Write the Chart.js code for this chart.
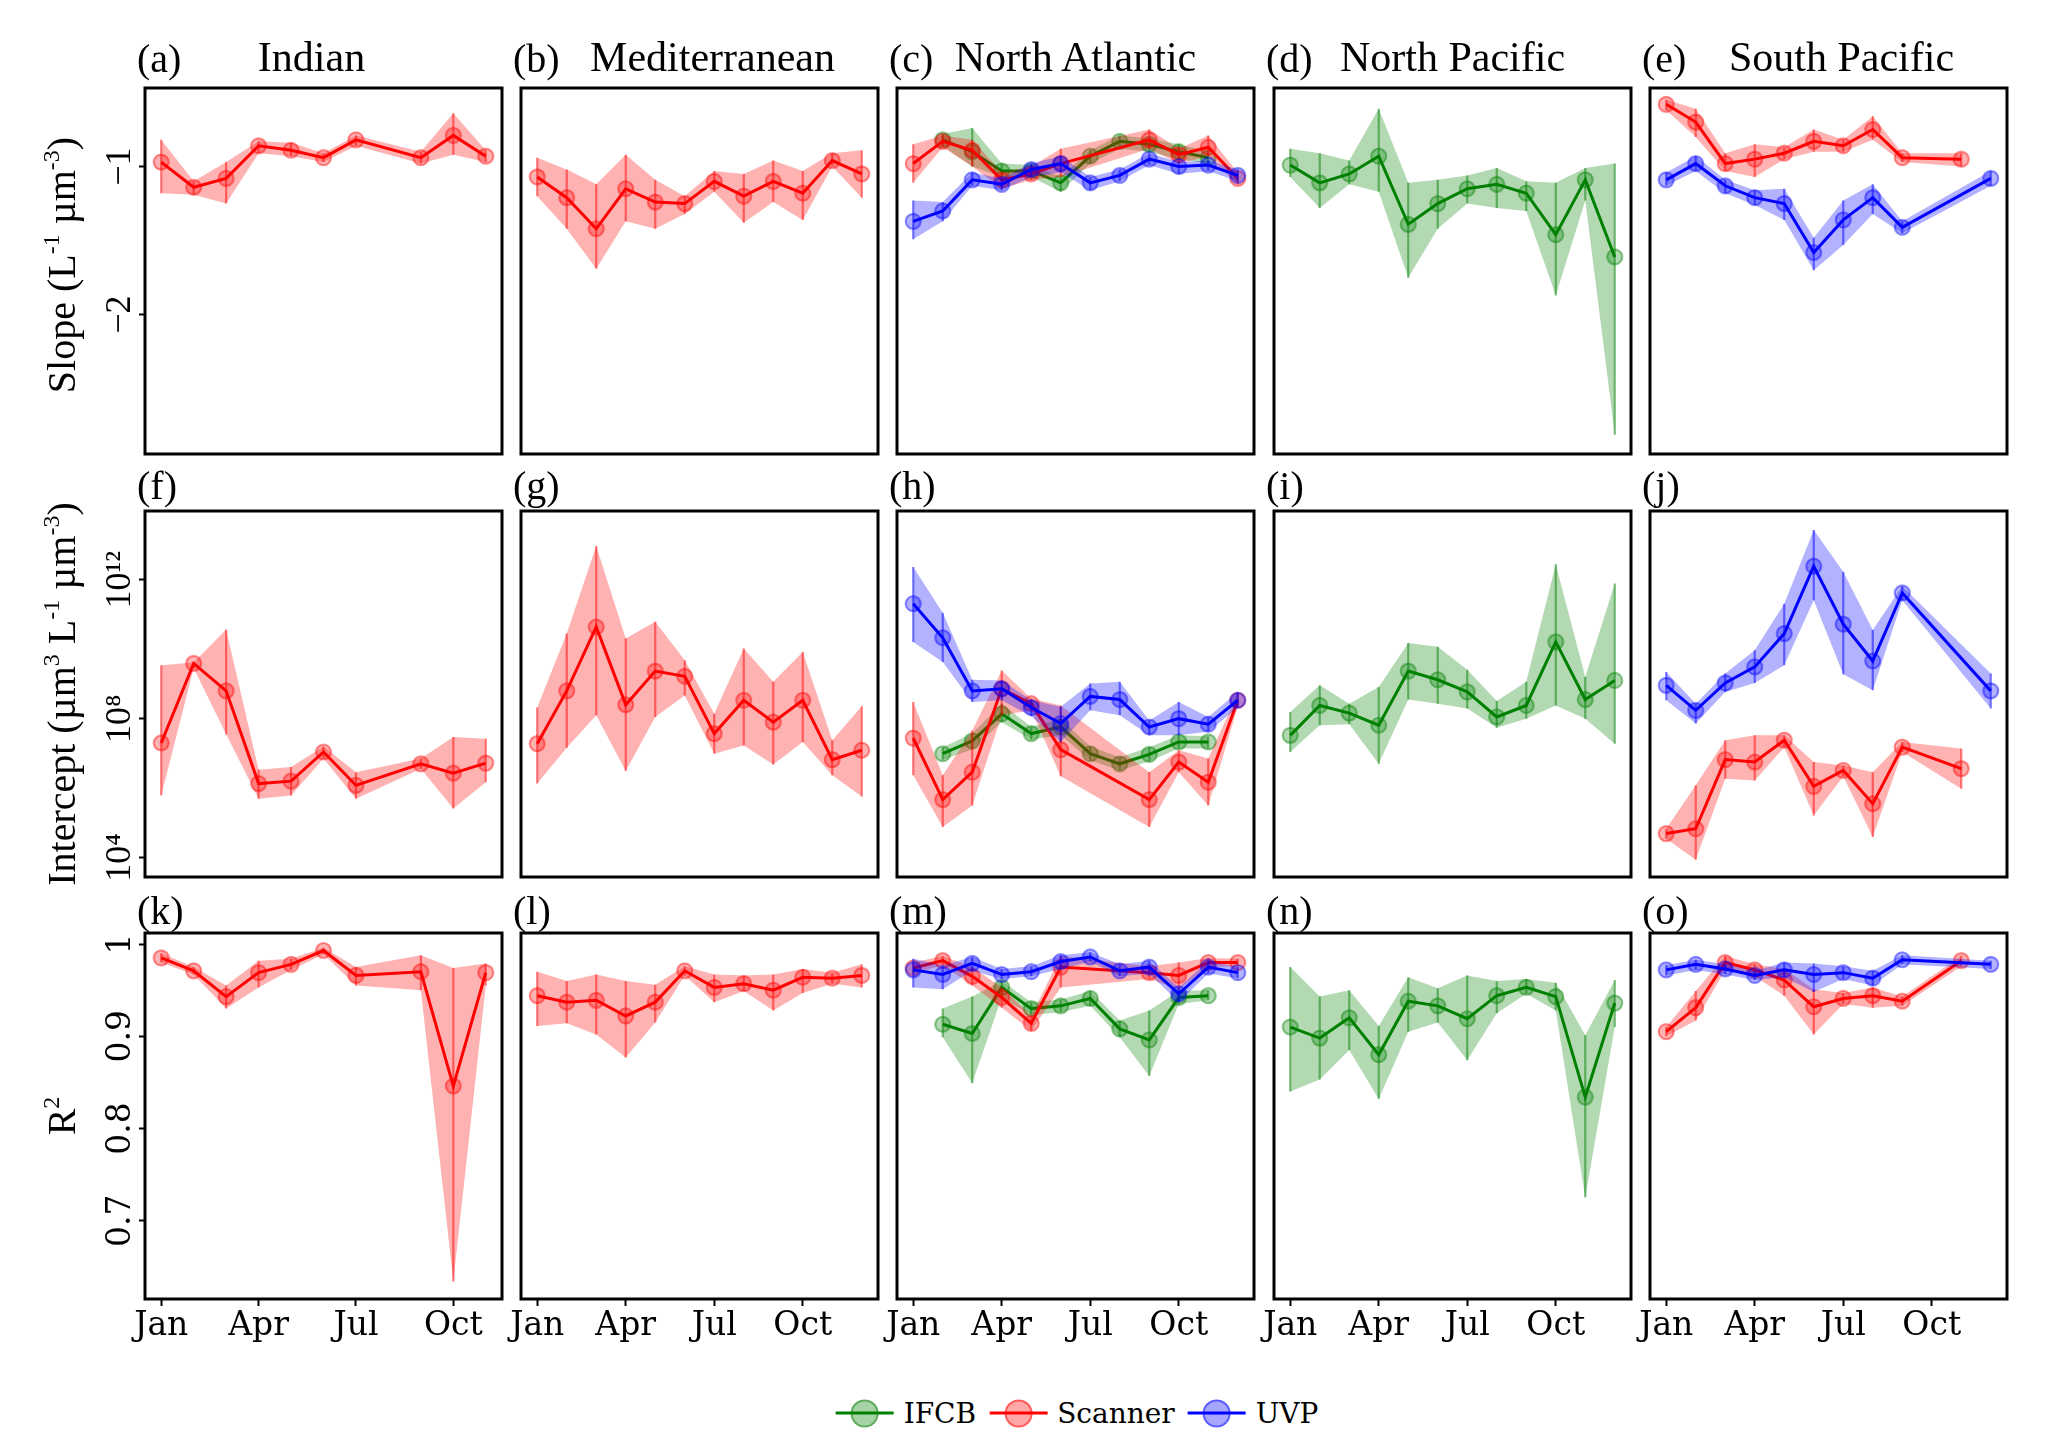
<!DOCTYPE html>
<html><head><meta charset="utf-8">
<script src="https://cdn.jsdelivr.net/npm/chart.js@4.4.1/dist/chart.umd.min.js"></script>
<style>
html,body{margin:0;padding:0;background:#fff;}
body{width:2067px;height:1445px;position:relative;overflow:hidden;}
canvas{position:absolute;}
.t{position:absolute;font-family:"Liberation Serif","Times New Roman",serif;color:#000;white-space:nowrap;line-height:1;font-size:40px;}
.t.big{font-size:42px;}
.t sup{font-size:0.6em;vertical-align:0.65em;line-height:0;}
#legend{position:absolute;left:1077px;top:1413px;transform:translate(-50%,-50%);display:flex;align-items:center;font-family:"DejaVu Serif",serif;font-size:28px;color:#000;white-space:nowrap;}
.hd{position:relative;width:58px;height:30px;}
.hd .ln{position:absolute;left:0;right:0;top:13px;height:3px;}
.hd .ci{position:absolute;left:15px;top:1px;width:24px;height:24px;border-radius:50%;}
.lt{margin-left:10px;margin-right:13px;}
.lt:last-child{margin-right:0;}
</style></head><body>
<script>
// ---------------- months (x values) ----------------
const monthsIndianScanner = [1,2,3,4,5,6,7,9,10,11];
const monthsMedScanner    = [1,2,3,4,5,6,7,8,9,10,11,12];
const monthsNAtlIFCB      = [2,3,4,5,6,7,8,9,10,11];
const monthsNAtlScanner   = [1,2,3,4,5,6,9,10,11,12];
const monthsNAtlUVP       = [1,2,3,4,5,6,7,8,9,10,11,12];
const monthsNPacIFCB      = [1,2,3,4,5,6,7,8,9,10,11,12];
const monthsSPacScanner   = [1,2,3,4,5,6,7,8,9,11];
const monthsSPacUVP       = [1,2,3,4,5,6,7,8,9,12];

// ---------------- Slope ----------------
const slopeIndianScanner    = [-0.97,-1.14,-1.08,-0.86,-0.89,-0.94,-0.82,-0.94,-0.79,-0.93];
const slopeIndianScannerHi  = [-0.82,-1.10,-0.97,-0.83,-0.84,-0.91,-0.79,-0.90,-0.64,-0.89];
const slopeIndianScannerLo  = [-1.18,-1.19,-1.25,-0.91,-0.93,-0.97,-0.86,-0.98,-0.92,-0.97];

const slopeMedScanner   = [-1.07,-1.21,-1.42,-1.15,-1.24,-1.25,-1.10,-1.20,-1.10,-1.18,-0.96,-1.05];
const slopeMedScannerHi = [-0.94,-1.02,-1.12,-0.92,-1.09,-1.20,-1.03,-1.05,-0.96,-1.03,-0.91,-0.89];
const slopeMedScannerLo = [-1.20,-1.42,-1.69,-1.37,-1.42,-1.32,-1.17,-1.38,-1.24,-1.36,-1.00,-1.21];

const slopeNAtlIFCB   = [-0.82,-0.90,-1.03,-1.03,-1.11,-0.93,-0.83,-0.85,-0.90,-0.94];
const slopeNAtlIFCBHi = [-0.78,-0.74,-0.98,-0.99,-1.07,-0.89,-0.79,-0.81,-0.85,-0.90];
const slopeNAtlIFCBLo = [-0.86,-1.00,-1.07,-1.07,-1.17,-0.98,-0.88,-0.90,-0.95,-0.98];

const slopeNAtlScanner   = [-0.98,-0.83,-0.89,-1.09,-1.05,-0.98,-0.82,-0.92,-0.87,-1.08];
const slopeNAtlScannerHi = [-0.85,-0.79,-0.82,-1.04,-1.00,-0.88,-0.75,-0.88,-0.79,-1.04];
const slopeNAtlScannerLo = [-1.11,-0.87,-1.00,-1.15,-1.09,-1.07,-0.88,-0.98,-0.93,-1.12];

const slopeNAtlUVP   = [-1.37,-1.30,-1.09,-1.12,-1.02,-0.98,-1.11,-1.06,-0.95,-1.00,-0.99,-1.06];
const slopeNAtlUVPHi = [-1.23,-1.24,-1.04,-1.08,-0.98,-0.93,-1.07,-1.02,-0.91,-0.97,-0.96,-1.02];
const slopeNAtlUVPLo = [-1.49,-1.37,-1.13,-1.16,-1.07,-1.04,-1.16,-1.10,-0.99,-1.05,-1.03,-1.10];

const slopeNPacIFCB   = [-0.99,-1.11,-1.05,-0.93,-1.39,-1.25,-1.15,-1.12,-1.18,-1.46,-1.09,-1.61];
const slopeNPacIFCBHi = [-0.88,-0.91,-0.96,-0.61,-1.11,-1.09,-1.06,-1.01,-1.10,-1.11,-1.01,-0.98];
const slopeNPacIFCBLo = [-1.07,-1.28,-1.12,-1.17,-1.75,-1.42,-1.25,-1.28,-1.30,-1.87,-1.23,-2.81];

const slopeSPacScanner   = [-0.58,-0.70,-0.98,-0.95,-0.91,-0.83,-0.86,-0.75,-0.94,-0.95];
const slopeSPacScannerHi = [-0.55,-0.61,-0.91,-0.85,-0.87,-0.75,-0.82,-0.66,-0.91,-0.91];
const slopeSPacScannerLo = [-0.62,-0.80,-1.03,-1.07,-0.95,-0.90,-0.90,-0.82,-0.97,-1.00];

const slopeSPacUVP   = [-1.09,-0.98,-1.13,-1.21,-1.25,-1.58,-1.36,-1.21,-1.41,-1.08];
const slopeSPacUVPHi = [-1.04,-0.93,-1.09,-1.16,-1.15,-1.48,-1.23,-1.12,-1.37,-1.03];
const slopeSPacUVPLo = [-1.13,-1.03,-1.18,-1.26,-1.36,-1.70,-1.53,-1.32,-1.45,-1.13];

// ---------------- Intercept (log10 of value) ----------------
const icptIndianScanner   = [7.30,9.59,8.80,6.13,6.20,7.04,6.08,6.70,6.43,6.72];
const icptIndianScannerHi = [9.54,9.62,10.57,6.53,6.61,7.20,6.46,6.85,7.47,7.42];
const icptIndianScannerLo = [5.79,9.45,7.55,5.69,5.79,6.85,5.69,6.56,5.41,6.17];

const icptMedScanner   = [7.28,8.80,10.64,8.40,9.37,9.22,7.57,8.53,7.90,8.53,6.82,7.09];
const icptMedScannerHi = [8.32,10.45,12.97,10.31,10.79,9.68,8.14,10.02,9.06,9.92,7.38,8.36];
const icptMedScannerLo = [6.13,7.16,8.10,6.49,8.05,8.67,6.99,7.23,6.68,7.33,6.37,5.76];

const icptNAtlIFCB   = [6.99,7.36,8.14,7.57,7.76,6.99,6.70,6.97,7.33,7.33];
const icptNAtlIFCBHi = [7.18,7.57,8.43,7.76,8.00,7.20,6.89,7.18,7.52,7.49];
const icptNAtlIFCBLo = [6.82,7.11,7.90,7.40,7.52,6.80,6.51,6.77,7.14,7.14];

const icptNAtlScanner   = [7.44,5.67,6.46,8.86,8.43,7.11,5.67,6.75,6.17,8.53];
const icptNAtlScannerHi = [8.48,6.37,7.66,9.39,8.58,8.38,6.46,7.09,6.85,8.72];
const icptNAtlScannerLo = [6.37,4.88,5.50,8.10,8.24,6.34,4.88,6.46,5.50,8.34];

const icptNAtlUVP   = [11.31,10.33,8.80,8.86,8.32,7.86,8.64,8.55,7.76,8.00,7.84,8.53];
const icptNAtlUVPHi = [12.37,11.05,9.12,9.10,8.53,8.34,9.01,9.06,7.95,8.48,8.05,8.77];
const icptNAtlUVPLo = [10.21,9.63,8.48,8.53,8.07,7.33,8.24,8.10,7.52,7.52,7.62,8.32];

const icptNPacIFCB   = [7.52,8.38,8.16,7.81,9.37,9.12,8.77,8.05,8.38,10.21,8.55,9.10];
const icptNPacIFCBHi = [8.19,8.96,8.43,8.91,10.18,10.07,9.41,8.51,9.06,12.45,9.20,11.89];
const icptNPacIFCBLo = [7.04,7.81,7.84,6.70,8.55,8.43,8.29,7.74,8.00,8.38,8.00,7.28];

const icptSPacScanner   = [4.69,4.83,6.82,6.75,7.38,6.05,6.51,5.55,7.18,6.56];
const icptSPacScannerHi = [4.83,6.08,7.38,7.52,7.52,6.75,6.65,6.46,7.33,7.14];
const icptSPacScannerLo = [4.54,3.94,6.27,6.22,7.18,5.21,6.34,4.59,7.04,5.98];

const icptSPacUVP   = [8.96,8.24,9.03,9.49,10.45,12.39,10.72,9.66,11.62,8.80];
const icptSPacUVPHi = [9.34,8.43,9.30,9.97,11.31,13.43,12.23,10.55,11.81,9.30];
const icptSPacUVPLo = [8.53,7.86,8.77,9.03,9.54,11.41,9.28,8.82,11.41,8.29];

// ---------------- R^2 ----------------
const r2IndianScanner   = [0.985,0.971,0.943,0.969,0.978,0.993,0.966,0.970,0.846,0.969];
const r2IndianScannerHi = [0.990,0.975,0.955,0.982,0.984,0.996,0.975,0.988,0.974,0.979];
const r2IndianScannerLo = [0.980,0.967,0.930,0.953,0.972,0.989,0.955,0.950,0.634,0.955];

const r2MedScanner   = [0.944,0.937,0.939,0.922,0.937,0.971,0.953,0.957,0.950,0.964,0.963,0.966];
const r2MedScannerHi = [0.970,0.960,0.967,0.960,0.956,0.976,0.967,0.966,0.967,0.973,0.969,0.978];
const r2MedScannerLo = [0.911,0.914,0.902,0.877,0.915,0.966,0.937,0.949,0.928,0.947,0.957,0.953];

const r2NAtlIFCB   = [0.913,0.903,0.953,0.930,0.933,0.941,0.908,0.896,0.942,0.944];
const r2NAtlIFCBHi = [0.930,0.943,0.960,0.937,0.940,0.949,0.917,0.928,0.949,0.950];
const r2NAtlIFCBLo = [0.899,0.849,0.942,0.923,0.926,0.933,0.899,0.857,0.935,0.939];

const r2NAtlScanner   = [0.974,0.982,0.965,0.942,0.914,0.975,0.969,0.966,0.980,0.980];
const r2NAtlScannerHi = [0.980,0.987,0.975,0.953,0.922,0.987,0.976,0.980,0.985,0.984];
const r2NAtlScannerLo = [0.968,0.977,0.955,0.931,0.906,0.953,0.962,0.951,0.975,0.976];

const r2NAtlUVP   = [0.972,0.967,0.979,0.967,0.970,0.981,0.986,0.971,0.975,0.946,0.975,0.969];
const r2NAtlUVPHi = [0.984,0.977,0.986,0.973,0.976,0.988,0.991,0.978,0.982,0.953,0.982,0.975];
const r2NAtlUVPLo = [0.953,0.951,0.971,0.962,0.965,0.973,0.981,0.965,0.968,0.937,0.968,0.963];

const r2NPacIFCB   = [0.910,0.898,0.920,0.880,0.938,0.933,0.919,0.944,0.953,0.943,0.834,0.936];
const r2NPacIFCBHi = [0.975,0.943,0.950,0.911,0.964,0.952,0.966,0.960,0.962,0.958,0.901,0.961];
const r2NPacIFCBLo = [0.840,0.853,0.885,0.832,0.905,0.915,0.874,0.925,0.946,0.928,0.725,0.910];

const r2SPacScanner   = [0.905,0.931,0.980,0.972,0.961,0.932,0.941,0.944,0.938,0.982];
const r2SPacScannerHi = [0.910,0.949,0.987,0.978,0.973,0.951,0.947,0.953,0.943,0.987];
const r2SPacScannerLo = [0.900,0.917,0.972,0.965,0.944,0.902,0.935,0.931,0.933,0.976];

const r2SPacUVP   = [0.972,0.978,0.973,0.966,0.972,0.967,0.969,0.963,0.983,0.978];
const r2SPacUVPHi = [0.977,0.983,0.978,0.971,0.980,0.979,0.976,0.971,0.988,0.982];
const r2SPacUVPLo = [0.966,0.972,0.967,0.961,0.964,0.948,0.962,0.955,0.978,0.973];

// ---------------- axes / labels ----------------
const regionNames = ['Indian','Mediterranean','North Atlantic','North Pacific','South Pacific'];
const panelLetters = [['(a)','(b)','(c)','(d)','(e)'],['(f)','(g)','(h)','(i)','(j)'],['(k)','(l)','(m)','(n)','(o)']];
const seriesNames = ['IFCB','Scanner','UVP'];
const monthTicks = [1,4,7,10];
const monthTickLabels = ['Jan','Apr','Jul','Oct'];
const slopeRange = [-2.94,-0.47];
const slopeTicks = [-2,-1];
const icptRangeExp = [3.44,13.98];
const icptTicksExp = [4,8,12];
const r2Range = [0.615,1.012];
const r2Ticks = [0.7,0.8,0.9,1];

// ---------------- lookup tables built from the arrays ----------------
const seriesByRegion = [
  [['Scanner', monthsIndianScanner, [slopeIndianScanner,slopeIndianScannerLo,slopeIndianScannerHi], [icptIndianScanner,icptIndianScannerLo,icptIndianScannerHi], [r2IndianScanner,r2IndianScannerLo,r2IndianScannerHi]]],
  [['Scanner', monthsMedScanner, [slopeMedScanner,slopeMedScannerLo,slopeMedScannerHi], [icptMedScanner,icptMedScannerLo,icptMedScannerHi], [r2MedScanner,r2MedScannerLo,r2MedScannerHi]]],
  [['IFCB', monthsNAtlIFCB, [slopeNAtlIFCB,slopeNAtlIFCBLo,slopeNAtlIFCBHi], [icptNAtlIFCB,icptNAtlIFCBLo,icptNAtlIFCBHi], [r2NAtlIFCB,r2NAtlIFCBLo,r2NAtlIFCBHi]],
   ['Scanner', monthsNAtlScanner, [slopeNAtlScanner,slopeNAtlScannerLo,slopeNAtlScannerHi], [icptNAtlScanner,icptNAtlScannerLo,icptNAtlScannerHi], [r2NAtlScanner,r2NAtlScannerLo,r2NAtlScannerHi]],
   ['UVP', monthsNAtlUVP, [slopeNAtlUVP,slopeNAtlUVPLo,slopeNAtlUVPHi], [icptNAtlUVP,icptNAtlUVPLo,icptNAtlUVPHi], [r2NAtlUVP,r2NAtlUVPLo,r2NAtlUVPHi]]],
  [['IFCB', monthsNPacIFCB, [slopeNPacIFCB,slopeNPacIFCBLo,slopeNPacIFCBHi], [icptNPacIFCB,icptNPacIFCBLo,icptNPacIFCBHi], [r2NPacIFCB,r2NPacIFCBLo,r2NPacIFCBHi]]],
  [['Scanner', monthsSPacScanner, [slopeSPacScanner,slopeSPacScannerLo,slopeSPacScannerHi], [icptSPacScanner,icptSPacScannerLo,icptSPacScannerHi], [r2SPacScanner,r2SPacScannerLo,r2SPacScannerHi]],
   ['UVP', monthsSPacUVP, [slopeSPacUVP,slopeSPacUVPLo,slopeSPacUVPHi], [icptSPacUVP,icptSPacUVPLo,icptSPacUVPHi], [r2SPacUVP,r2SPacUVPLo,r2SPacUVPHi]]]
];

const COLORS = {IFCB:[0,128,0], Scanner:[255,0,0], UVP:[0,0,255]};
const rgba = (c,a) => `rgba(${c[0]},${c[1]},${c[2]},${a})`;

// layout (px)
const BOX_L = [145, 521, 897, 1274, 1650];
const BOX_T = [88, 511, 933];
const BOX_W = 357, BOX_H = 366;
const PAD_L = 70, PAD_T = 12, PAD_R = 12, PAD_B = 70;
const DEJAVU = "'DejaVu Serif', serif";
const TIMES = "'Liberation Serif', 'Times New Roman', serif";
const TITLE_DX = [-12, 13, 0, 0, 13];

const supMap = {'0':'\u2070','1':'\u00b9','2':'\u00b2','3':'\u00b3','4':'\u2074','5':'\u2075','6':'\u2076','7':'\u2077','8':'\u2078','9':'\u2079'};
const toSup = s => String(s).split('').map(ch => supMap[ch]).join('');
const fmtNum = v => v < 0 ? '\u2212' + Math.abs(v) : String(v);

const yDefs = [
  {type:'linear', min:slopeRange[0], max:slopeRange[1], ticks:slopeTicks, label:fmtNum, tf:v=>v, family:TIMES, size:36},
  {type:'logarithmic', min:Math.pow(10,icptRangeExp[0]), max:Math.pow(10,icptRangeExp[1]),
   ticks:icptTicksExp.map(e=>Math.pow(10,e)), label:v=>'10'+toSup(Math.round(Math.log10(v))), tf:v=>Math.pow(10,v), family:TIMES, size:36},
  {type:'linear', min:r2Range[0], max:r2Range[1], ticks:r2Ticks, label:fmtNum, tf:v=>v, family:DEJAVU, size:33}
];

const measCtx = document.createElement('canvas').getContext('2d');

const boxPlugin = {
  id:'box',
  afterDraw(chart){
    const a = chart.chartArea, ctx = chart.ctx;
    ctx.save(); ctx.strokeStyle = '#000'; ctx.lineWidth = 3;
    ctx.strokeRect(a.left, a.top, a.right - a.left, a.bottom - a.top);
    ctx.restore();
  }
};

function makePanel(row, col){
  const yd = yDefs[row];
  const series = seriesByRegion[col];
  const datasets = [];
  let mMin = Infinity, mMax = -Infinity;
  series.forEach(s => {
    const name = s[0], ms = s[1], arr = s[2 + row];
    const c = COLORS[name];
    const k = seriesNames.indexOf(name);
    const base = 100 - k * 10;
    mMin = Math.min(mMin, ...ms); mMax = Math.max(mMax, ...ms);
    const [val, lo, hi] = arr;
    datasets.push({type:'line', data: ms.map((m,i)=>({x:m, y:yd.tf(hi[i])})), borderColor:'rgba(0,0,0,0)', borderWidth:0,
      pointRadius:0, backgroundColor: rgba(c,0.3), fill:'+1', order: base, tension:0});
    datasets.push({type:'line', data: ms.map((m,i)=>({x:m, y:yd.tf(lo[i])})), borderColor:'rgba(0,0,0,0)', borderWidth:0,
      pointRadius:0, fill:false, order: base - 1, tension:0});
    const err = [];
    ms.forEach((m,i) => { err.push({x:m, y:yd.tf(lo[i])}, {x:m, y:yd.tf(hi[i])}, {x:m, y:null}); });
    datasets.push({type:'line', data: err, borderColor: rgba(c,0.5), borderWidth:2.2, pointRadius:0, fill:false,
      spanGaps:false, order: base - 2});
    datasets.push({type:'line', data: ms.map((m,i)=>({x:m, y:yd.tf(val[i])})), borderColor: rgba(c,1), borderWidth:3,
      pointRadius:7.5, pointBorderWidth:2.2, pointBackgroundColor: rgba(c,0.3), pointBorderColor: rgba(c,0.42),
      fill:false, order: base - 3, tension:0});
  });
  const span = mMax - mMin;
  const xMin = mMin - 0.05 * span, xMax = mMax + 0.05 * span;

  measCtx.font = `${yd.size}px ${yd.family}`;
  const labels = yd.ticks.map(yd.label);
  const widest = Math.max(...labels.map(l => measCtx.measureText(l).width));
  const yPad = 24 - 6 - widest / 2;

  const cv = document.createElement('canvas');
  const W = BOX_W + PAD_L + PAD_R, H = BOX_H + PAD_T + PAD_B;
  cv.width = W; cv.height = H;
  cv.style.width = W + 'px'; cv.style.height = H + 'px';
  cv.style.left = (BOX_L[col] - PAD_L) + 'px';
  cv.style.top = (BOX_T[row] - PAD_T) + 'px';
  document.body.appendChild(cv);

  new Chart(cv, {
    type:'line',
    data:{datasets},
    plugins:[boxPlugin],
    options:{
      responsive:false, animation:false, events:[],
      layout:{padding:{left:0, top:PAD_T, right:PAD_R, bottom:0}},
      plugins:{legend:{display:false}, tooltip:{enabled:false}, title:{display:false}},
      scales:{
        x:{type:'linear', min:xMin, max:xMax,
          afterBuildTicks: s => { s.ticks = monthTicks.map(v => ({value:v})); },
          afterFit: s => { s.height = PAD_B; s.paddingLeft = 0; s.paddingRight = 0; },
          ticks:{display: row === 2, autoSkip:false, maxRotation:0, minRotation:0, padding:1, color:'#000',
            font:{family:DEJAVU, size:33}, callback: v => monthTickLabels[monthTicks.indexOf(v)] ?? ''},
          grid:{display: row === 2, drawOnChartArea:false, drawTicks:true, tickLength:7, tickWidth:2, tickColor:'#000'},
          border:{display:false}
        },
        y:{type:yd.type, min:yd.min, max:yd.max,
          afterBuildTicks: s => { s.ticks = yd.ticks.map(v => ({value:v})); },
          afterFit: s => { s.width = PAD_L; s.paddingTop = 0; s.paddingBottom = 0; },
          ticks:{display: col === 0, minRotation:90, maxRotation:90, crossAlign:'center', padding:yPad, color:'#000',
            autoSkip:false, font:{family:yd.family, size:yd.size}, callback: v => yd.label(v)},
          grid:{display: col === 0, drawOnChartArea:false, drawTicks:true, tickLength:6, tickWidth:2, tickColor:'#000'},
          border:{display:false}
        }
      }
    }
  });
}

for (let r = 0; r < 3; r++) for (let c = 0; c < 5; c++) makePanel(r, c);

// ---------------- text ----------------
function addText(html, left, top, transform, cls){
  const d = document.createElement('div');
  d.className = 't' + (cls ? ' ' + cls : ''); d.innerHTML = html;
  d.style.left = left + 'px'; d.style.top = top + 'px';
  d.style.transform = transform;
  document.body.appendChild(d);
}
const letterY = [59, 486, 911];
for (let r = 0; r < 3; r++) for (let c = 0; c < 5; c++)
  addText(panelLetters[r][c], BOX_L[c] - 8, letterY[r], 'translateY(-50%)');
regionNames.forEach((n, c) => addText(n, BOX_L[c] + BOX_W / 2 + TITLE_DX[c], 57, 'translate(-50%,-50%)', 'big'));
const yTitles = ['Slope (L<sup>-1</sup> \u00b5m<sup>-3</sup>)', 'Intercept (\u00b5m<sup>3</sup> L<sup>-1</sup> \u00b5m<sup>-3</sup>)', 'R<sup>2</sup>'];
const yTitleDy = [-6, 0, 0];
yTitles.forEach((t, r) => addText(t, 62, BOX_T[r] + BOX_H / 2 + yTitleDy[r], 'translate(-50%,-50%) rotate(-90deg)'));

// legend
const lg = document.createElement('div'); lg.id = 'legend';
seriesNames.forEach(n => {
  const c = COLORS[n];
  const hd = document.createElement('div'); hd.className = 'hd';
  hd.innerHTML = `<div class="ln" style="background:${rgba(c,1)}"></div><div class="ci" style="background:${rgba(c,0.35)};border:2px solid ${rgba(c,0.45)}"></div>`;
  const tx = document.createElement('span'); tx.className = 'lt'; tx.textContent = n;
  lg.appendChild(hd); lg.appendChild(tx);
});
document.body.appendChild(lg);
</script>
</body></html>
